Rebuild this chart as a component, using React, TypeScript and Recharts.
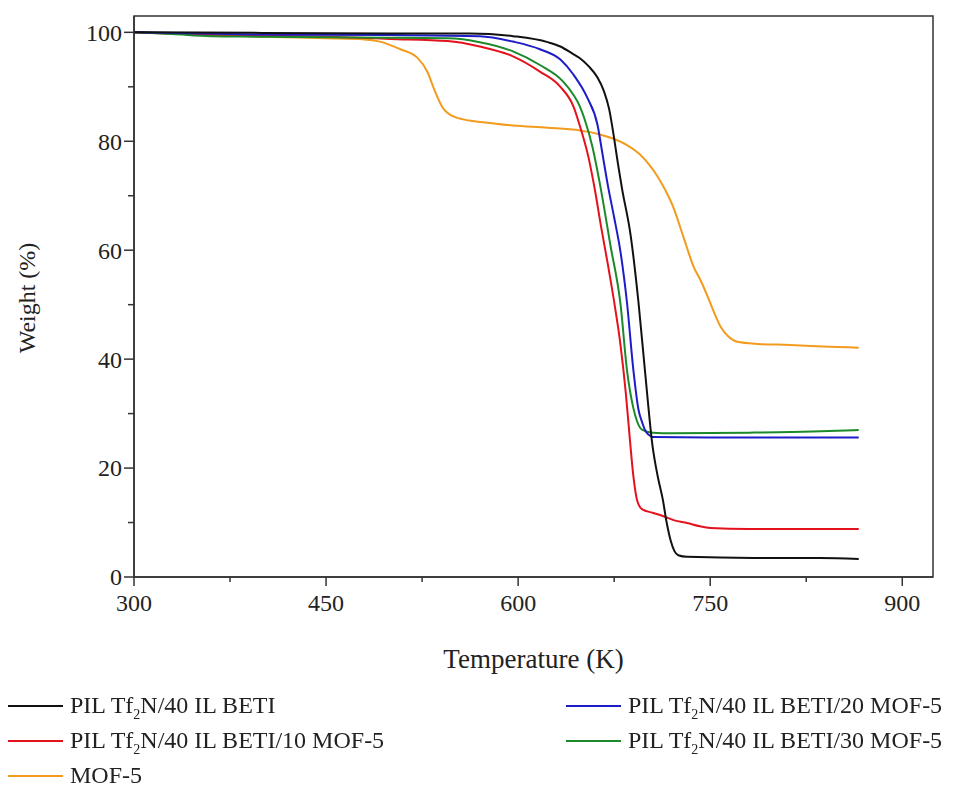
import { Line, LineChart, ReferenceArea, XAxis, YAxis, Label } from "recharts";

// temperature (K) / weight (%) pairs
const betiTemps = [300, 400, 500, 562, 596, 623, 633, 643, 648, 655, 662, 667, 671, 675, 678, 681, 688, 694, 699, 705, 709, 713, 716, 719, 722, 725, 732, 784, 836, 866];
const betiWeights = [100, 99.9, 99.8, 99.8, 99.3, 98.2, 97.4, 96, 95.3, 93.8, 91.7, 89.2, 86, 80.5, 75.8, 71.5, 62.5, 50.4, 38, 24, 18.5, 14.2, 10, 6.8, 4.8, 4, 3.7, 3.5, 3.5, 3.3];

const mof20Temps = [300, 400, 500, 570, 596, 617, 633, 643, 654, 662, 666, 670, 675, 680, 685, 690, 694, 697, 699, 702, 705, 750, 866];
const mof20Weights = [100, 99.6, 99.5, 99.3, 98.3, 96.9, 95, 92.3, 88, 83, 77.5, 72, 66, 59.6, 50.4, 38, 30.7, 28.3, 27, 26.1, 25.7, 25.6, 25.6];

const mof10Temps = [300, 350, 400, 450, 500, 545, 570, 596, 617, 633, 643, 648, 655, 660, 665, 670, 675, 680, 684, 687, 690, 693, 697, 705, 713, 722, 732, 742, 750, 780, 820, 866];
const mof10Weights = [100, 99.6, 99.4, 99.2, 98.8, 98.4, 97.4, 95.6, 92.8, 90, 86.5, 83, 77, 71, 64, 57.5, 50.5, 42.5, 34, 26, 18.5, 14, 12.4, 11.8, 11.2, 10.4, 9.9, 9.3, 9, 8.8, 8.8, 8.8];

const mof30Temps = [300, 330, 360, 400, 450, 500, 545, 570, 596, 617, 635, 643, 648, 652, 658, 664, 672, 680, 685, 690, 693, 697, 705, 720, 780, 830, 866];
const mof30Weights = [100, 99.7, 99.3, 99.2, 99.1, 99, 98.9, 98.2, 96.5, 94, 91, 88.6, 86.5, 84, 79, 72, 61, 50, 38, 31, 28.5, 27, 26.5, 26.4, 26.5, 26.7, 27];

const mofTemps = [300, 350, 400, 450, 480, 492, 508, 521, 529, 535, 541, 549, 562, 580, 596, 623, 648, 663, 674, 685, 695, 702, 709, 715, 721, 729, 737, 743, 748, 753, 758, 764, 771, 787, 812, 838, 866];
const mofWeights = [100, 99.6, 99.2, 98.9, 98.7, 98.3, 96.9, 95.4, 92.8, 89.2, 86.2, 84.6, 83.8, 83.3, 82.9, 82.5, 82, 81.3, 80.5, 79.3, 77.6, 75.8, 73.5, 71, 68, 62.5, 57, 54.2, 51.5, 48.6, 46, 44.2, 43.2, 42.8, 42.6, 42.3, 42.1];

const xTicks = [300, 375, 450, 525, 600, 675, 750, 825, 900];
const yTicks = [0, 10, 20, 30, 40, 50, 60, 70, 80, 90, 100];

const font = "'Liberation Serif', 'Times New Roman', serif";
const axisColor = "#333";

const toPoints = (temps: number[], weights: number[]) =>
  temps.map((t, i) => ({ t, w: weights[i] }));

// legend order (two columns, row by row)
const series = [
  { name: "PIL Tf2N/40 IL BETI", color: "#111111", data: toPoints(betiTemps, betiWeights) },
  { name: "PIL Tf2N/40 IL BETI/20 MOF-5", color: "#1d1dc8", data: toPoints(mof20Temps, mof20Weights) },
  { name: "PIL Tf2N/40 IL BETI/10 MOF-5", color: "#e3121c", data: toPoints(mof10Temps, mof10Weights) },
  { name: "PIL Tf2N/40 IL BETI/30 MOF-5", color: "#1c8a2a", data: toPoints(mof30Temps, mof30Weights) },
  { name: "MOF-5", color: "#f29b1d", data: toPoints(mofTemps, mofWeights) },
];

// draw order: orange underneath, black on top
const drawOrder = [4, 2, 3, 1, 0];

function XTick({ x, y, payload }: any) {
  const major = payload.value % 150 === 0;
  return (
    <g>
      <line x1={x} x2={x} y1={y} y2={y + (major ? 9 : 5)} stroke={axisColor} strokeWidth={1.5} />
      {major && (
        <text x={x} y={y + 16} dy="0.75em" textAnchor="middle" fontSize={24} fontFamily={font} fill="#222">
          {payload.value}
        </text>
      )}
    </g>
  );
}

function YTick({ x, y, payload }: any) {
  const major = payload.value % 20 === 0;
  return (
    <g>
      <line x1={x} x2={x - (major ? 10 : 6)} y1={y} y2={y} stroke={axisColor} strokeWidth={1.5} />
      {major && (
        <text x={x - 12} y={y} dy="0.35em" textAnchor="end" fontSize={24} fontFamily={font} fill="#222">
          {payload.value}
        </text>
      )}
    </g>
  );
}

function LegendName({ name }: { name: string }) {
  const [before, after] = name.split("Tf2N");
  if (after === undefined) return <>{name}</>;
  return (
    <>
      {before}Tf<sub style={{ fontSize: 14, lineHeight: 0 }}>2</sub>N{after}
    </>
  );
}

export default function App() {
  return (
    <div style={{ position: "fixed", left: 0, top: 0, width: 954, height: 791, background: "#fff" }}>
      <LineChart width={954} height={680} margin={{ top: 16, right: 21, left: 0, bottom: 0 }}>
        <XAxis
          dataKey="t"
          type="number"
          domain={[300, 924]}
          ticks={xTicks}
          interval={0}
          tickSize={0}
          tickMargin={0}
          tickLine={false}
          tick={<XTick />}
          height={103}
          axisLine={{ stroke: axisColor, strokeWidth: 1.5 }}
        >
          <Label
            value="Temperature (K)"
            position="insideBottom"
            offset={12}
            style={{ fontSize: 27, fontFamily: font, fill: "#222" }}
          />
        </XAxis>
        <YAxis
          type="number"
          domain={[0, 103]}
          ticks={yTicks}
          interval={0}
          tickSize={0}
          tickMargin={0}
          tickLine={false}
          tick={<YTick />}
          width={134}
          axisLine={{ stroke: axisColor, strokeWidth: 1.5 }}
        >
          <Label
            content={() => (
              <text
                x={27}
                y={298}
                transform="rotate(-90 27 298)"
                textAnchor="middle"
                dominantBaseline="central"
                fontSize={24}
                fontFamily={font}
                fill="#222"
              >
                Weight (%)
              </text>
            )}
          />
        </YAxis>
        <ReferenceArea
          x1={300}
          x2={924}
          y1={0}
          y2={103}
          fill="none"
          stroke={axisColor}
          strokeWidth={1.5}
          ifOverflow="visible"
        />
        {drawOrder.map((i) => (
          <Line
            key={series[i].name}
            data={series[i].data}
            dataKey="w"
            name={series[i].name}
            type="monotone"
            stroke={series[i].color}
            strokeWidth={2}
            dot={false}
            isAnimationActive={false}
          />
        ))}
      </LineChart>
      <div
        style={{
          position: "absolute",
          left: 8,
          top: 688,
          display: "grid",
          gridTemplateColumns: "558px auto",
          fontFamily: font,
          fontSize: 24,
          color: "#222",
        }}
      >
        {series.map((s) => (
          <div key={s.name} style={{ display: "flex", alignItems: "center", height: 35 }}>
            <span style={{ display: "inline-block", width: 55, height: 2, background: s.color, marginRight: 7 }} />
            <span style={{ whiteSpace: "nowrap" }}>
              <LegendName name={s.name} />
            </span>
          </div>
        ))}
      </div>
    </div>
  );
}
